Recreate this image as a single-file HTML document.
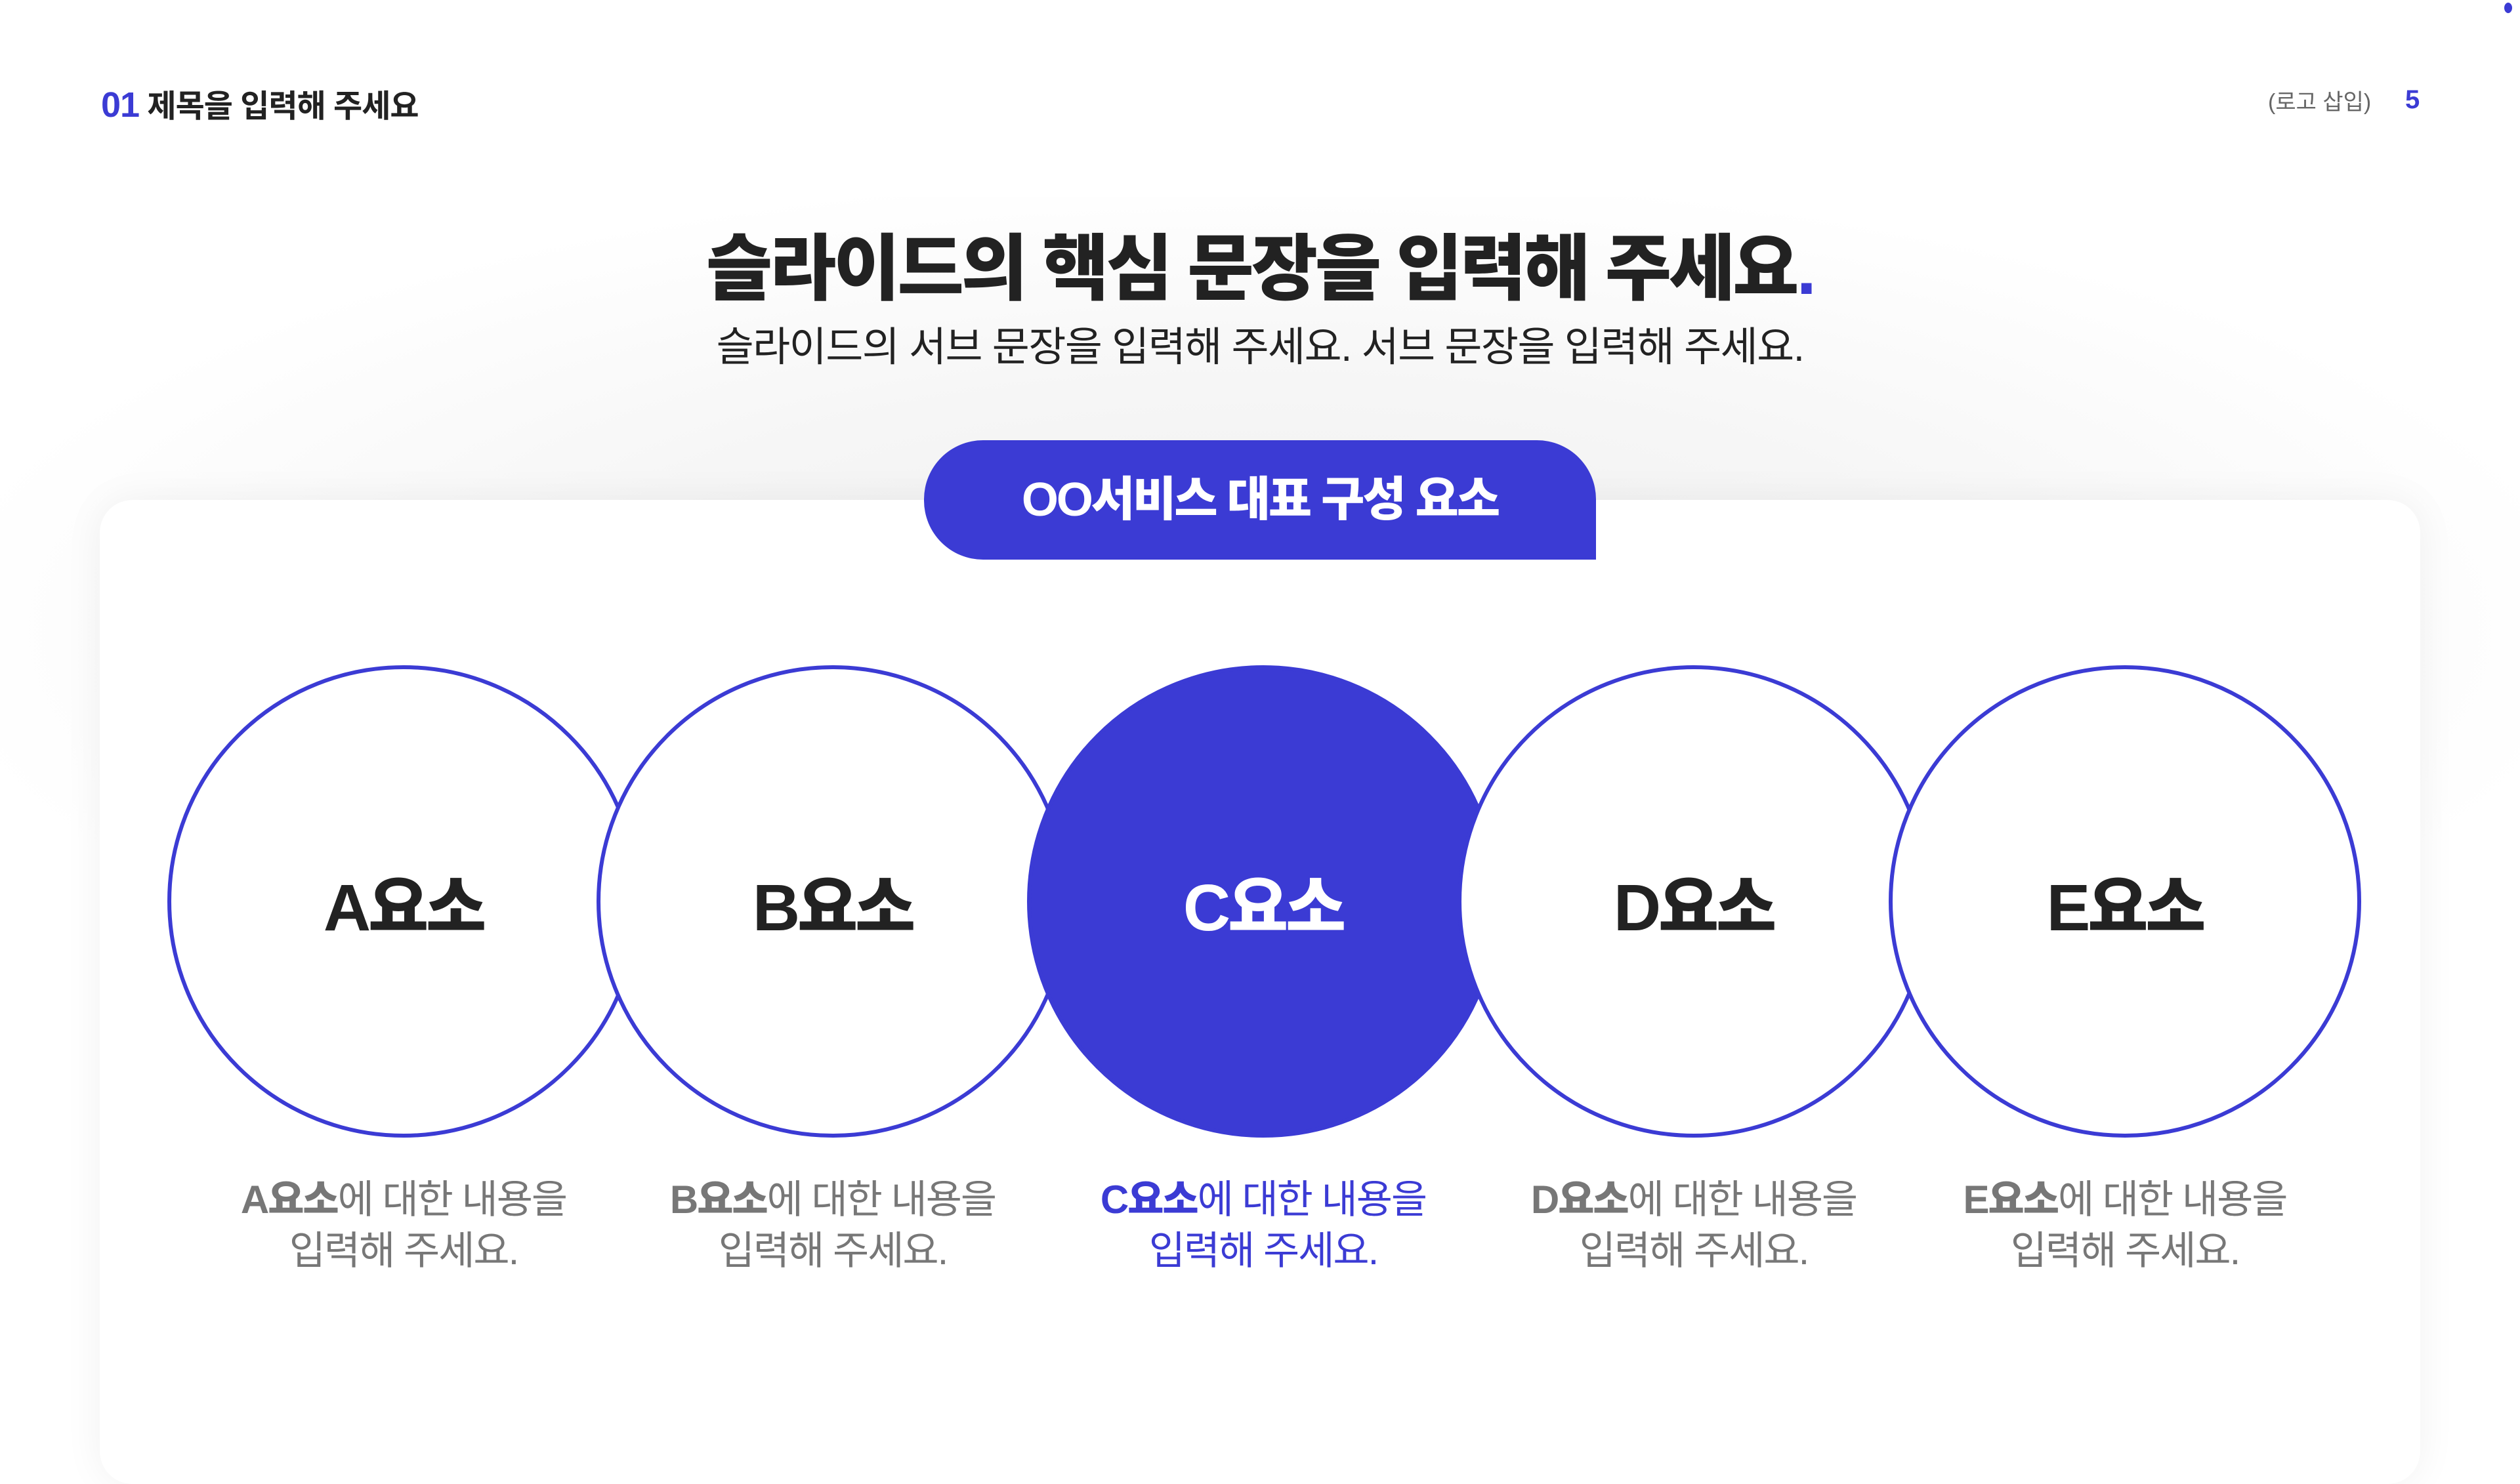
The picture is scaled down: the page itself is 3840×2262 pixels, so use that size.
<!DOCTYPE html>
<html><head><meta charset="utf-8"><style>
body{margin:0;width:3840px;height:2160px;overflow:hidden;background:#fff;font-family:"Liberation Sans","Noto Sans CJK KR",sans-serif;position:relative}
.bg{position:absolute;left:0;top:300px;width:3840px;height:1100px;background:radial-gradient(ellipse at 50% 60%,#efefef 0%,#f6f6f6 40%,#fff 75%)}
.card{position:absolute;left:152px;top:762px;width:3536px;height:1500px;background:#fff;border-radius:50px;box-shadow:0 0 60px rgba(0,0,0,0.06)}
.tab{position:absolute;left:1408px;top:671px;width:1024px;height:182px;background:#3b3bd4;border-radius:90px 90px 0 90px;color:#fff;font-weight:900;font-size:72px;text-align:center;line-height:182px;letter-spacing:-3px}
.hdr{position:absolute;top:122px;font-size:48px;font-weight:700;color:#222;letter-spacing:-1px}
.t1{position:absolute;left:0;width:3840px;text-align:center;top:320px;font-size:110px;font-weight:900;color:#222;letter-spacing:-4px}
.t2{position:absolute;left:0;width:3840px;text-align:center;top:478px;font-size:62px;color:#222;letter-spacing:-1.5px}
.c{position:absolute;top:1014px;width:720px;height:720px;border-radius:50%;box-sizing:border-box;border:6px solid #3b3bd4;background:#fff;display:flex;align-items:center;justify-content:center;font-size:100px;font-weight:900;color:#222;letter-spacing:-4px}
.d{position:absolute;top:1790px;width:720px;text-align:center;font-size:60px;line-height:78px;color:#777;letter-spacing:-2px}
.d b{font-weight:900}
</style></head><body>
<div class="bg"></div>
<div style="position:absolute;left:3816px;top:4px;width:12px;height:16px;border-radius:50%;background:#3b3bd4"></div>
<div class="hdr" style="left:154px"><span style="color:#3b3bd4;font-weight:900;font-size:54px">01</span> 제목을 입력해 주세요</div>
<div style="position:absolute;left:3456px;top:128px;font-size:34px;color:#666">(로고 삽입)</div>
<div style="position:absolute;left:3665px;top:130px;font-size:40px;font-weight:900;color:#3b3bd4">5</div>
<div class="t1">슬라이드의 핵심 문장을 입력해 주세요<span style="color:#3b3bd4">.</span></div>
<div class="t2">슬라이드의 서브 문장을 입력해 주세요. 서브 문장을 입력해 주세요.</div>
<div class="card"></div>
<div class="tab">OO서비스 대표 구성 요소</div>
<div class="c" style="left:255px">A요소</div>
<div class="c" style="left:909px">B요소</div>
<div class="c" style="left:1565px;background:#3b3bd4;color:#fff">C요소</div>
<div class="c" style="left:2221px">D요소</div>
<div class="c" style="left:2878px">E요소</div>
<div class="d" style="left:255px"><b>A요소</b>에 대한 내용을<br>입력해 주세요.</div>
<div class="d" style="left:909px"><b>B요소</b>에 대한 내용을<br>입력해 주세요.</div>
<div class="d" style="left:1565px;color:#3b3bd4"><b>C요소</b>에 대한 내용을<br>입력해 주세요.</div>
<div class="d" style="left:2221px"><b>D요소</b>에 대한 내용을<br>입력해 주세요.</div>
<div class="d" style="left:2878px"><b>E요소</b>에 대한 내용을<br>입력해 주세요.</div>
</body></html>
